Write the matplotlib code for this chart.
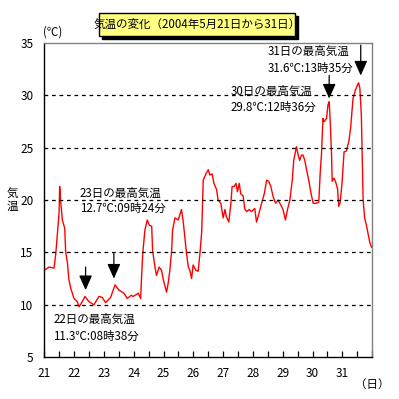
import matplotlib
matplotlib.use("Agg")
import matplotlib.pyplot as plt
from matplotlib.patches import Rectangle

plt.rcParams['font.family'] = ['Noto Sans CJK JP', 'DejaVu Sans']

# 日付（5月21日0時からの通算日）と気温
day = [21.00, 21.15, 21.32, 21.38, 21.43, 21.49, 21.51, 21.54, 21.60, 21.68,
       21.71, 21.77, 21.82, 21.88, 21.99, 22.10, 22.16, 22.27, 22.36, 22.49,
       22.66, 22.83, 22.94, 23.05, 23.22, 23.37, 23.50, 23.67, 23.78, 23.91,
       23.98, 24.15, 24.23, 24.26, 24.30, 24.37, 24.45, 24.52, 24.60, 24.63,
       24.71, 24.76, 24.85, 24.93, 24.99, 25.10, 25.15, 25.21, 25.27, 25.30,
       25.38, 25.49, 25.60, 25.66, 25.71, 25.77, 25.83, 25.88, 25.94, 25.99,
       26.08, 26.16, 26.22, 26.28, 26.33, 26.42, 26.50, 26.55, 26.63, 26.69,
       26.78, 26.83, 26.92, 27.00, 27.06, 27.11, 27.19, 27.26, 27.30, 27.37,
       27.43, 27.48, 27.54, 27.59, 27.67, 27.73, 27.79, 27.87, 27.95, 28.06,
       28.12, 28.20, 28.29, 28.38, 28.46, 28.53, 28.60, 28.68, 28.76, 28.85,
       28.94, 29.01, 29.09, 29.16, 29.24, 29.32, 29.37, 29.46, 29.52, 29.57,
       29.63, 29.68, 29.74, 29.80, 29.88, 29.94, 30.02, 30.13, 30.21, 30.26,
       30.30, 30.35, 30.39, 30.47, 30.52, 30.56, 30.60, 30.64, 30.66, 30.72,
       30.77, 30.84, 30.88, 30.93, 30.99, 31.06, 31.14, 31.22, 31.28, 31.36,
       31.44, 31.51, 31.55, 31.59, 31.64, 31.70, 31.75, 31.81, 31.87, 31.92,
       31.98]
temp = [13.3, 13.6, 13.5, 14.9, 16.7, 18.8, 21.3, 20.0, 18.1, 17.3,
        15.1, 14.0, 12.4, 11.6, 10.6, 10.3, 9.8, 10.3, 10.8, 10.3,
        10.0, 10.8, 10.7, 10.2, 10.7, 11.9, 11.4, 11.1, 10.6, 10.9,
        10.8, 11.1, 10.6, 12.7, 14.9, 17.1, 18.1, 17.6, 17.5, 15.2,
        13.6, 12.8, 13.6, 13.3, 12.4, 11.2, 12.0, 13.3, 15.2, 17.1,
        18.3, 18.1, 19.1, 17.9, 16.5, 14.9, 13.6, 13.3, 12.5, 13.8,
        13.3, 13.2, 14.9, 17.0, 21.9, 22.5, 22.9, 22.4, 22.5, 21.6,
        21.0, 20.0, 19.7, 18.3, 19.1, 18.4, 17.9, 19.7, 21.3, 21.3,
        21.6, 20.8, 21.6, 20.6, 20.4, 19.1, 18.9, 19.1, 18.9, 19.2,
        17.9, 18.7, 19.7, 20.6, 21.9, 21.8, 21.3, 20.3, 19.7, 20.0,
        19.5, 19.1, 18.1, 19.1, 20.0, 21.9, 23.8, 25.1, 24.3, 23.8,
        24.3, 24.3, 23.8, 22.9, 21.8, 20.8, 19.7, 19.7, 19.8, 22.7,
        24.3, 27.8, 27.5, 27.8, 29.1, 29.4, 27.2, 24.3, 21.8, 22.1,
        21.8, 21.1, 19.4, 19.8, 21.6, 24.6, 24.7, 25.6, 26.9, 29.7,
        30.5, 31.0, 31.2, 30.7, 28.1, 20.0, 18.3, 17.6, 16.7, 16.0,
        15.5]

day_ticks = list(range(21, 33))
day_labels = [str(d) for d in range(21, 32)] + [""]
temp_ticks = [5, 10, 15, 20, 25, 30, 35]
grid_lines = [10, 15, 20, 25, 30]

# 注記（最高気温）: 1行目, 2行目, 左端の日, 1行目と2行目の高さ
note_line1 = ["31日の最高気温", "30日の最高気温", "23日の最高気温", "22日の最高気温"]
note_line2 = ["31.6℃:13時35分", "29.8℃:12時36分", "12.7℃:09時24分", "11.3℃:08時38分"]
note_x = [28.50, 27.25, 22.19, 21.30]
note_y1 = [34.17, 30.35, 20.64, 8.61]
note_y2 = [32.6, 28.83, 19.2, 6.95]
arrow_x = [31.62, 30.56, 23.33, 22.38]
arrow_top = [34.8, 31.9, 14.9, 13.6]
arrow_tip = [31.9, 29.7, 12.5, 11.4]

fig = plt.figure(figsize=(3.99, 3.99), dpi=100)
ax = fig.add_axes([0.1115, 0.105, 0.821, 0.787])

ax.plot(day, temp, color="red", lw=1.0)

for g in grid_lines:
    ax.axhline(g, color="black", lw=0.9, ls=(0, (3, 3)))

for t1, t2, x, y1, y2 in zip(note_line1, note_line2, note_x, note_y1, note_y2):
    ax.text(x, y1, t1, fontsize=8.3, va="center", ha="left")
    ax.text(x, y2, t2, fontsize=8.3, va="center", ha="left")

for x, y0, y1 in zip(arrow_x, arrow_top, arrow_tip):
    ax.annotate("", xy=(x, y1), xytext=(x, y0),
                arrowprops=dict(arrowstyle="-|>,head_width=0.4,head_length=0.9",
                                color="black", lw=0.9, shrinkA=0, shrinkB=0))

ax.set_xlim(21, 32)
ax.set_ylim(5, 35)
ax.set_xticks(day_ticks)
ax.set_xticklabels(day_labels)
ax.set_xticks([d + 0.5 for d in range(21, 32)], minor=True)
ax.set_yticks(temp_ticks)
ax.tick_params(axis="x", which="both", direction="in", length=4, width=0.9,
               labelsize=8.5, pad=7)
ax.tick_params(axis="y", length=0, labelsize=8.5, pad=8)
ax.spines["left"].set_color("black")
ax.spines["bottom"].set_color("black")
ax.spines["top"].set_color("#808080")
ax.spines["right"].set_color("#808080")
for s in ax.spines.values():
    s.set_linewidth(1.0)

# タイトルの箱（影つき）
W, H = 399.0, 399.0
fig.patches.append(Rectangle((102 / W, 1 - 39 / H), 196 / W, 23 / H,
                             transform=fig.transFigure, fc="black", ec="black"))
fig.patches.append(Rectangle((99 / W, 1 - 36 / H), 196 / W, 23 / H,
                             transform=fig.transFigure, fc="#ffff80", ec="black", lw=1))
fig.text(197 / W, 1 - 24.5 / H, "気温の変化（2004年5月21日から31日）",
         fontsize=8.3, ha="center", va="center")

fig.text(53 / W, 1 - 32 / H, "(℃)", fontsize=8.3, ha="center", va="center")
fig.text(12 / W, 1 - 200 / H, "気\n温", fontsize=8.3, ha="center", va="center",
         linespacing=0.95)
fig.text(372 / W, 1 - 384 / H, "（日）", fontsize=8.3, ha="center", va="center")

fig.savefig("out.png", dpi=100)
